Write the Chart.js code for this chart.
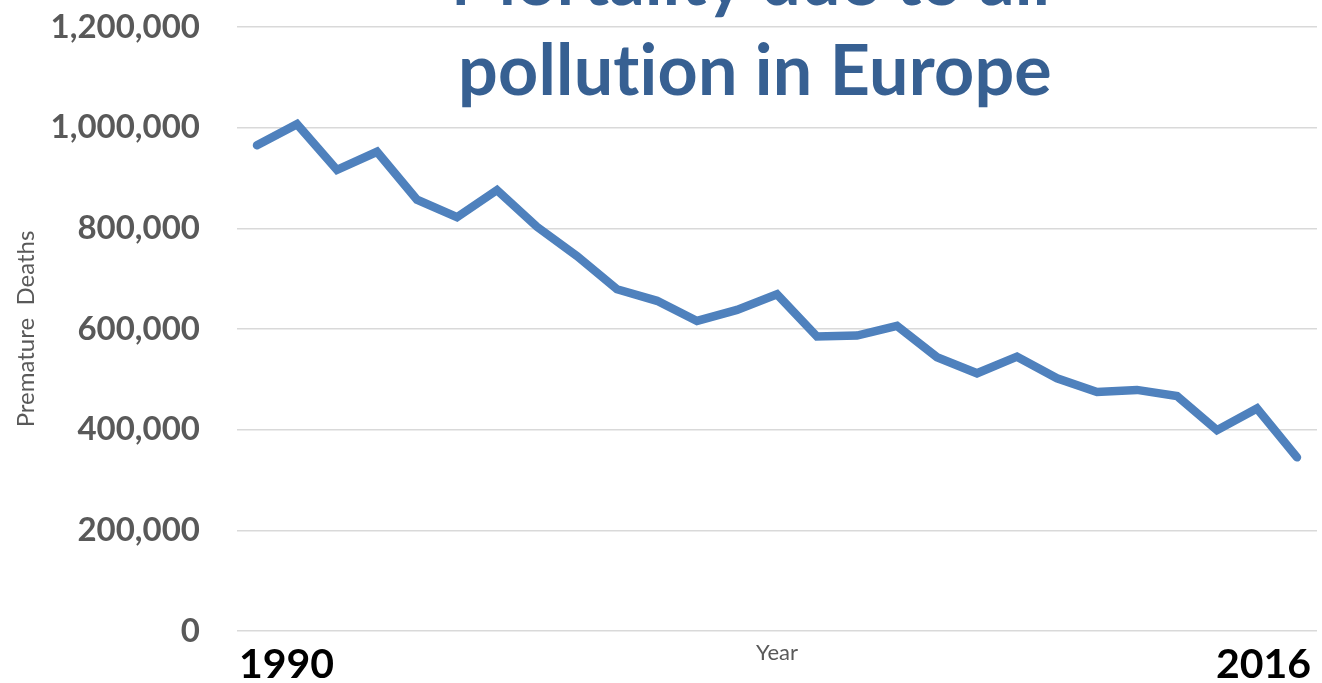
<!DOCTYPE html>
<html>
<head>
<meta charset="utf-8">
<title>Mortality due to air pollution in Europe</title>
<script src="https://cdn.jsdelivr.net/npm/chart.js@4/dist/chart.umd.min.js"></script>
<style>
  html, body { margin: 0; padding: 0; background: #fff; }
  #wrap { width: 1322px; height: 683px; position: relative; }
</style>
</head>
<body>
<div id="wrap"><canvas id="mortalityChart"></canvas></div>
<script>
// Chart data
const years = [1990, 1991, 1992, 1993, 1994, 1995, 1996, 1997, 1998, 1999,
  2000, 2001, 2002, 2003, 2004, 2005, 2006, 2007, 2008, 2009,
  2010, 2011, 2012, 2013, 2014, 2015, 2016];
const deaths = [965000, 1007000, 916000, 952000, 857000, 822000, 876000, 803000, 745000, 679000,
  656000, 616000, 638000, 669000, 585000, 587000, 606000, 544000, 512000, 545000,
  502000, 475000, 479000, 467000, 399000, 442000, 345000];
const xTickLabels = ["1990", "2016"];
const yTicks = [0, 200000, 400000, 600000, 800000, 1000000, 1200000];
const titleLines = ["Mortality due to air", "pollution in Europe"];

// Title sits over the plot, like the original
const overlayTitle = {
  id: "overlayTitle",
  afterDraw(chart) {
    const ctx = chart.ctx;
    ctx.save();
    ctx.font = "bold 70px Lato";
    ctx.letterSpacing = "0.2px"; // keeps "ti" from turning into a ligature
    ctx.fillStyle = "#376092";
    ctx.textAlign = "center";
    ctx.textBaseline = "alphabetic";
    titleLines.forEach((line, i) => ctx.fillText(line, 755, 5 + i * 90));
    ctx.restore();
  },
};

const ctx = document.getElementById("mortalityChart");
new Chart(ctx, {
  type: "line",
  data: {
    datasets: [
      {
        label: "Premature Deaths",
        data: years.map((yr, i) => ({ x: yr, y: deaths[i] })),
        borderColor: "#4F81BD",
        backgroundColor: "#4F81BD",
        borderWidth: 8.5,
        borderCapStyle: "round",
        pointRadius: 0,
        tension: 0,
        fill: false,
      },
    ],
  },
  options: {
    responsive: true,
    maintainAspectRatio: false,
    animation: false,
    layout: { padding: { top: 27, right: 5, left: 0, bottom: 0 } },
    scales: {
      x: {
        type: "linear",
        min: years[0] - 0.5,
        max: years[years.length - 1] + 0.5,
        afterBuildTicks: (scale) => {
          scale.ticks = [{ value: years[0] - 0.45 }, { value: years[years.length - 1] + 0.35 }];
        },
        afterFit: (scale) => {
          scale.height = 52;
          scale.paddingLeft = 0;
          scale.paddingRight = 0;
        },
        grid: { display: false, drawTicks: false },
        border: { display: false },
        ticks: {
          autoSkip: false,
          maxRotation: 0,
          align: "inner",
          padding: 9,
          color: "#000000",
          font: { family: "Lato", size: 41, weight: "bold" },
          callback: (value, index) => xTickLabels[index],
        },
        title: {
          display: true,
          text: "Year",
          color: "#595959",
          font: { family: "Lato", size: 22 },
          padding: { top: 0, bottom: 17 },
        },
      },
      y: {
        min: 0,
        max: 1200000,
        afterBuildTicks: (scale) => {
          scale.ticks = yTicks.map((v) => ({ value: v }));
        },
        afterFit: (scale) => {
          scale.width = 237;
          scale.paddingTop = 0;
          scale.paddingBottom = 0;
        },
        grid: { color: "#D9D9D9", lineWidth: 1.5, drawTicks: false },
        border: { display: false },
        ticks: {
          padding: 37,
          color: "#595959",
          font: { family: "Lato", size: 33, weight: "bold" },
          callback: (value) => value.toLocaleString("en-US"),
        },
        title: {
          display: true,
          text: "Premature  Deaths",
          color: "#595959",
          font: { family: "Lato", size: 24 },
          padding: { top: 12, bottom: 0 },
        },
      },
    },
    plugins: {
      legend: { display: false },
      tooltip: { enabled: false },
    },
  },
  plugins: [overlayTitle],
});
</script>
</body>
</html>
